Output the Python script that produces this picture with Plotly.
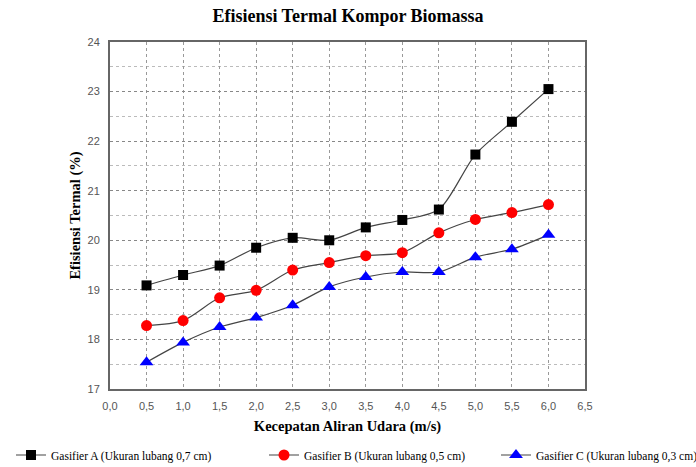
import plotly.graph_objects as go

kecepatan = [0.5, 1.0, 1.5, 2.0, 2.5, 3.0, 3.5, 4.0, 4.5, 5.0, 5.5, 6.0]
gasifier_a = [19.09, 19.3, 19.49, 19.85, 20.05, 20.0, 20.26, 20.41, 20.62, 21.73, 22.39, 23.05]
gasifier_b = [18.28, 18.38, 18.84, 18.99, 19.4, 19.55, 19.69, 19.75, 20.15, 20.42, 20.56, 20.72]
gasifier_c = [17.54, 17.94, 18.25, 18.44, 18.69, 19.06, 19.26, 19.36, 19.36, 19.66, 19.82, 20.11]

x_ticks = [0.0, 0.5, 1.0, 1.5, 2.0, 2.5, 3.0, 3.5, 4.0, 4.5, 5.0, 5.5, 6.0, 6.5]
x_labels = [f"{v:.1f}".replace(".", ",") for v in x_ticks]

series = [
    ("Gasifier A (Ukuran lubang 0,7 cm)", gasifier_a, "square", "black", 10, "legend2"),
    ("Gasifier B (Ukuran lubang 0,5 cm)", gasifier_b, "circle", "red", 11, "legend3"),
    ("Gasifier C (Ukuran lubang 0,3 cm)", gasifier_c, "triangle-up", "blue", 12, "legend4"),
]

serif = "Liberation Serif"
sans = "Liberation Sans"

fig = go.Figure()
for nama, nilai, simbol, warna, ukuran, leg in series:
    fig.add_trace(go.Scatter(
        x=kecepatan,
        y=nilai,
        name=nama,
        legend=leg,
        showlegend=True,
        mode="lines+markers",
        line=dict(color="#444444", width=1.2, shape="spline", smoothing=0.8),
        marker=dict(symbol=simbol, color=warna, size=ukuran, line=dict(width=0)),
    ))

# satu legenda per seri, dijajarkan di bawah grafik
def legenda(x_px):
    return dict(
        orientation="h",
        xref="container", x=x_px / 696, xanchor="left",
        yref="container", y=1 - 455 / 467, yanchor="middle",
        font=dict(family=serif, size=11.5, color="black"),
        bgcolor="rgba(0,0,0,0)",
    )

fig.update_layout(
    width=696,
    height=467,
    margin=dict(l=110, r=111, t=42, b=78, autoexpand=False),
    plot_bgcolor="white",
    paper_bgcolor="white",
    title=dict(
        text="<b>Efisiensi Termal Kompor Biomassa</b>",
        x=0.5, xanchor="center", y=1 - 16 / 467, yanchor="middle",
        font=dict(family=serif, size=18, color="black"),
    ),
    legend2=legenda(11),
    legend3=legenda(264),
    legend4=legenda(496),
)

fig.update_xaxes(
    range=[0, 6.5],
    tickvals=x_ticks,
    ticktext=x_labels,
    tickfont=dict(family=sans, size=11, color="#555555"),
    ticklabelstandoff=6,
    showline=True, linecolor="#666666", linewidth=2, mirror=True,
    showgrid=True, gridcolor="#999999", griddash="dot", gridwidth=1,
    zeroline=False,
    ticks="",
    title=dict(text="<b>Kecepatan Aliran Udara (m/s)</b>",
               font=dict(family=serif, size=14.5, color="black"), standoff=10),
)

fig.update_yaxes(
    range=[17, 24],
    dtick=1,
    tickfont=dict(family=sans, size=11, color="#555555"),
    ticklabelstandoff=6,
    showline=True, linecolor="#666666", linewidth=2, mirror=True,
    showgrid=True, gridcolor="#888888", griddash="dot", gridwidth=1,
    minor=dict(dtick=0.5, showgrid=True, gridcolor="#bbbbbb", griddash="dot", gridwidth=1),
    zeroline=False,
    ticks="",
    title=dict(text="<b>Efisiensi Termal (%)</b>",
               font=dict(family=serif, size=14.5, color="black"), standoff=3),
)

fig.write_html(
    "out.html",
    config={"displayModeBar": False},
    post_script="document.body.style.margin = '0';",
)
